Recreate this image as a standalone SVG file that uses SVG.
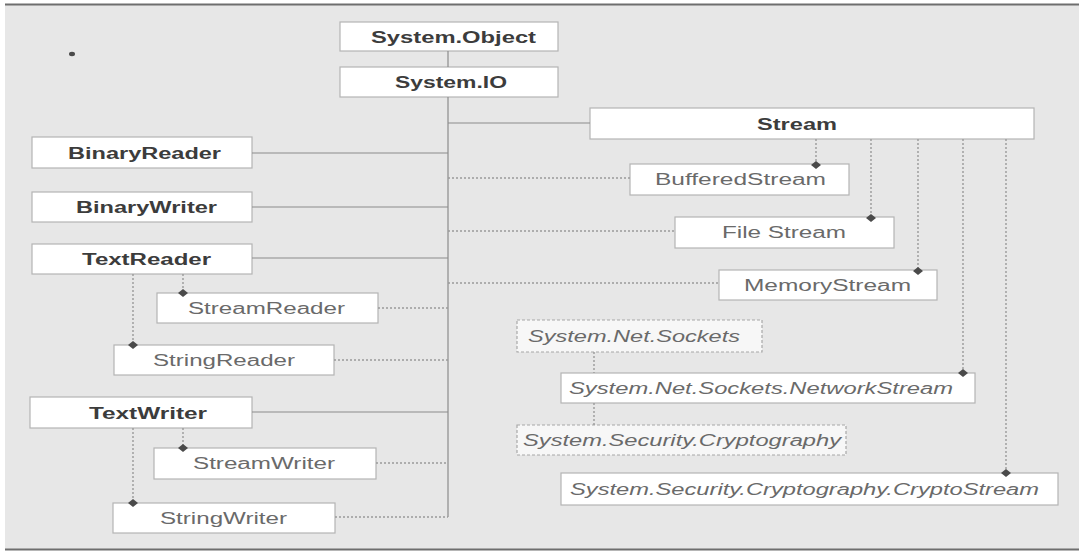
<svg xmlns="http://www.w3.org/2000/svg" width="1079" height="555" viewBox="0 0 1079 555">
  <style>
    .box { fill: #ffffff; stroke: #b4b4b4; stroke-width: 1.2; }
    .ns { fill: #f7f7f7; stroke: #a8a8a8; stroke-width: 1.2; stroke-dasharray: 3 2; }
    .t { font-family: "Liberation Sans", Arial, sans-serif; font-size: 16px; }
    .b { font-weight: bold; fill: #3c3c3c; }
    .r { fill: #6a6a6a; }
    .i { fill: #6a6a6a; font-style: italic; }
    .solid { stroke: #8c8c8c; stroke-width: 1.2; fill: none; }
    .dot { stroke: #9a9a9a; stroke-width: 1.4; stroke-dasharray: 2 2; fill: none; }
    .dia { fill: #4a4a4a; }
  </style>

  <!-- page -->
  <rect x="0" y="0" width="1079" height="555" fill="#ffffff"/>
  <rect x="5" y="5" width="1074" height="544" fill="#e7e7e7"/>
  <line x1="5" y1="4.5" x2="1079" y2="4.5" stroke="#6e6e6e" stroke-width="2"/>
  <line x1="5" y1="549.5" x2="1079" y2="549.5" stroke="#6e6e6e" stroke-width="2"/>
  <ellipse cx="72" cy="54" rx="3" ry="2.2" fill="#4a4a4a"/>

  <!-- nodes -->
  <g id="system-object">
    <rect class="box" x="340" y="22" width="218" height="29"/>
    <text class="t b" x="371" y="42.5" textLength="165" lengthAdjust="spacingAndGlyphs">System.Object</text>
  </g>
  <g id="system-io">
    <rect class="box" x="340" y="67" width="218" height="30"/>
    <text class="t b" x="395" y="88" textLength="112" lengthAdjust="spacingAndGlyphs">System.IO</text>
  </g>
  <g id="stream">
    <rect class="box" x="590" y="108" width="444" height="31"/>
    <text class="t b" x="757" y="129.5" textLength="80" lengthAdjust="spacingAndGlyphs">Stream</text>
  </g>
  <g id="binary-reader">
    <rect class="box" x="32" y="137" width="220" height="31"/>
    <text class="t b" x="68" y="158.5" textLength="153" lengthAdjust="spacingAndGlyphs">BinaryReader</text>
  </g>
  <g id="binary-writer">
    <rect class="box" x="32" y="192" width="220" height="30"/>
    <text class="t b" x="76" y="212.5" textLength="141" lengthAdjust="spacingAndGlyphs">BinaryWriter</text>
  </g>
  <g id="text-reader">
    <rect class="box" x="32" y="244" width="220" height="30"/>
    <text class="t b" x="82" y="264.5" textLength="129" lengthAdjust="spacingAndGlyphs">TextReader</text>
  </g>
  <g id="stream-reader">
    <rect class="box" x="157" y="293" width="221" height="30"/>
    <text class="t r" x="188" y="314" textLength="157" lengthAdjust="spacingAndGlyphs">StreamReader</text>
  </g>
  <g id="string-reader">
    <rect class="box" x="114" y="345" width="220" height="30"/>
    <text class="t r" x="153" y="366" textLength="142" lengthAdjust="spacingAndGlyphs">StringReader</text>
  </g>
  <g id="text-writer">
    <rect class="box" x="30" y="397" width="222" height="31"/>
    <text class="t b" x="89" y="418.5" textLength="118" lengthAdjust="spacingAndGlyphs">TextWriter</text>
  </g>
  <g id="stream-writer">
    <rect class="box" x="154" y="448" width="222" height="31"/>
    <text class="t r" x="193" y="469" textLength="142" lengthAdjust="spacingAndGlyphs">StreamWriter</text>
  </g>
  <g id="string-writer">
    <rect class="box" x="113" y="503" width="222" height="30"/>
    <text class="t r" x="160" y="524" textLength="127" lengthAdjust="spacingAndGlyphs">StringWriter</text>
  </g>
  <g id="buffered-stream">
    <rect class="box" x="630" y="164" width="219" height="31"/>
    <text class="t r" x="655" y="185" textLength="171" lengthAdjust="spacingAndGlyphs">BufferedStream</text>
  </g>
  <g id="file-stream">
    <rect class="box" x="675" y="217" width="219" height="31"/>
    <text class="t r" x="722" y="238" textLength="124" lengthAdjust="spacingAndGlyphs">File Stream</text>
  </g>
  <g id="memory-stream">
    <rect class="box" x="719" y="270" width="218" height="30"/>
    <text class="t r" x="744" y="291" textLength="167" lengthAdjust="spacingAndGlyphs">MemoryStream</text>
  </g>
  <g id="net-sockets">
    <rect class="ns" x="517" y="320" width="245" height="32"/>
    <text class="t i" x="528" y="341.5" textLength="212" lengthAdjust="spacingAndGlyphs">System.Net.Sockets</text>
  </g>
  <g id="network-stream">
    <rect class="box" x="561" y="373" width="414" height="30"/>
    <text class="t i" x="569" y="394" textLength="384" lengthAdjust="spacingAndGlyphs">System.Net.Sockets.NetworkStream</text>
  </g>
  <g id="security-cryptography">
    <rect class="ns" x="517" y="425" width="329" height="30"/>
    <text class="t i" x="523" y="446" textLength="318" lengthAdjust="spacingAndGlyphs">System.Security.Cryptography</text>
  </g>
  <g id="crypto-stream">
    <rect class="box" x="561" y="473" width="497" height="32"/>
    <text class="t i" x="570" y="495" textLength="469" lengthAdjust="spacingAndGlyphs">System.Security.Cryptography.CryptoStream</text>
  </g>

  <!-- connectors (drawn last so the diamond ends sit on the box edges) -->
  <g id="connectors">
    <path class="solid" d="M448 51V67 M448 97V517 M448 123H590 M252 153H448 M252 207H448 M252 258H448 M252 412H448"/>
    <path class="dot" d="M448 178H630 M448 231H675 M448 283H719"/>
    <path class="dot" d="M378 308H448 M334 360H448 M376 463H448 M335 517H448"/>
    <path class="dot" d="M133 274V345 M183 274V293 M133 428V503 M183 428V448"/>
    <path class="dot" d="M816 139V165 M871 139V218 M918 139V271 M963 139V373 M1006 139V473"/>
    <path class="dot" d="M594 352V373 M594 403V425"/>
    <g class="dia">
      <path d="M133 341l5 4-5 4-5-4z"/>
      <path d="M183 289l5 4-5 4-5-4z"/>
      <path d="M133 499l5 4-5 4-5-4z"/>
      <path d="M183 444l5 4-5 4-5-4z"/>
      <path d="M816 161l5 4-5 4-5-4z"/>
      <path d="M871 214l5 4-5 4-5-4z"/>
      <path d="M918 267l5 4-5 4-5-4z"/>
      <path d="M963 369l5 4-5 4-5-4z"/>
      <path d="M1006 469l5 4-5 4-5-4z"/>
    </g>
  </g>
</svg>
